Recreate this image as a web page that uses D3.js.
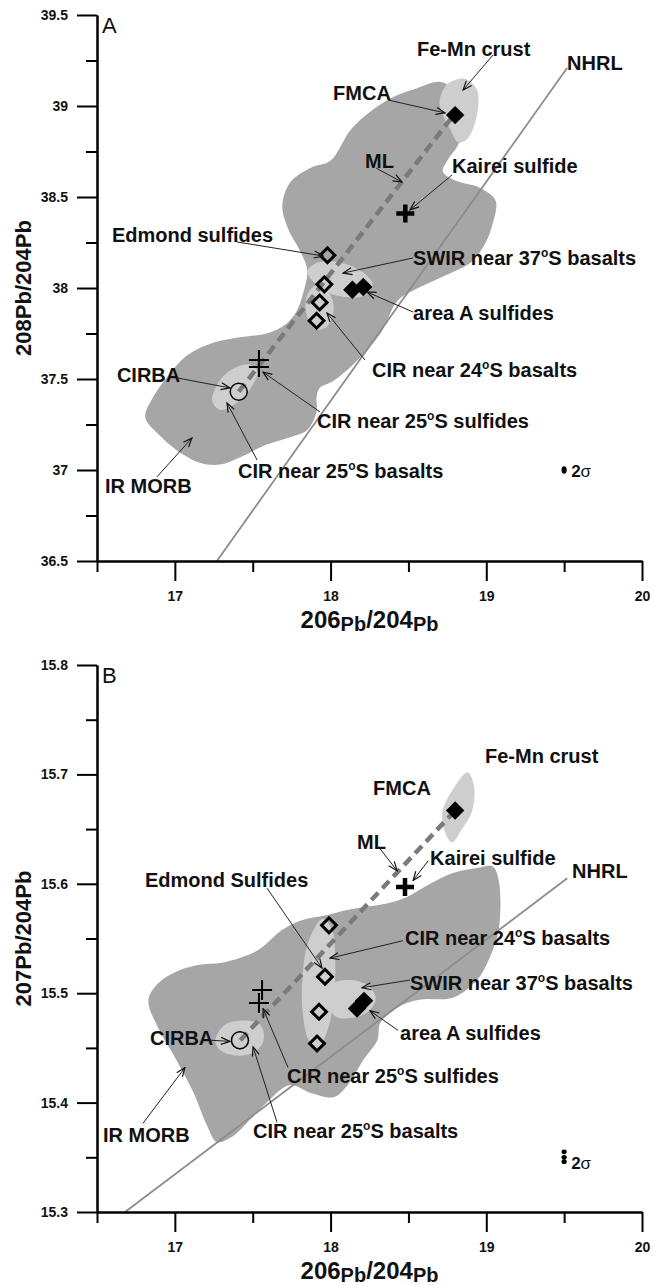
<!DOCTYPE html>
<html>
<head>
<meta charset="utf-8">
<script src="https://d3js.org/d3.v7.min.js"></script>
<style>
body { margin: 0; background: #fff; }
text { font-family: Arial, "Liberation Sans", sans-serif; }
</style>
</head>
<body>
<div id="chart"></div>
<script>

// ---- axis ticks ----
var xMajor = [17, 18, 19, 20], xMinor = [16.5, 17.5, 18.5, 19.5];
var yMajorA = [36.5, 37, 37.5, 38, 38.5, 39, 39.5], yMinorA = [36.75, 37.25, 37.75, 38.25, 38.75, 39.25];
var yMajorB = [15.3, 15.4, 15.5, 15.6, 15.7, 15.8], yMinorB = [15.35, 15.45, 15.55, 15.65, 15.75];

// ---- panel A: 208Pb/204Pb vs 206Pb/204Pb ----
var morbA = [[16.81,37.29],[16.86,37.40],[16.95,37.51],[17.08,37.63],[17.25,37.70],[17.42,37.73],[17.59,37.75],[17.71,37.80],[17.78,37.87],[17.82,37.96],[17.85,38.10],[17.80,38.21],[17.73,38.32],[17.69,38.45],[17.74,38.58],[17.87,38.66],[18.00,38.70],[18.14,38.88],[18.36,39.03],[18.53,39.09],[18.72,39.13],[18.82,39.03],[18.83,38.81],[18.75,38.70],[18.72,38.64],[18.80,38.59],[18.96,38.55],[19.06,38.48],[19.04,38.35],[18.99,38.24],[18.90,38.14],[18.74,38.07],[18.54,37.99],[18.43,37.93],[18.32,37.75],[18.17,37.60],[18.02,37.49],[17.93,37.45],[17.91,37.40],[17.91,37.32],[17.85,37.22],[17.74,37.18],[17.59,37.14],[17.42,37.07],[17.29,37.03],[17.16,37.04],[17.01,37.11],[16.89,37.20]];
var feMnA  = [[18.70,39.03],[18.75,39.12],[18.86,39.15],[18.94,39.09],[18.94,38.95],[18.88,38.82],[18.82,38.80],[18.77,38.87],[18.72,38.95]];
var swirA  = [[17.85,38.09],[17.92,38.14],[18.06,38.14],[18.20,38.09],[18.27,38.02],[18.22,37.96],[18.09,37.95],[17.95,37.99]];
var cir24A = [[17.93,38.02],[18.00,37.96],[18.02,37.88],[17.98,37.79],[17.91,37.77],[17.86,37.82],[17.84,37.93],[17.87,37.99]];
var cir25A = [[17.24,37.38],[17.28,37.48],[17.36,37.55],[17.48,37.58],[17.53,37.54],[17.48,37.44],[17.38,37.36],[17.29,37.33]];
var nhrlA = [[17.27,36.5],[19.52,39.21]];
var mlA = [[17.41,37.43],[18.80,38.96]];
var openDiaA = [[17.98,38.18],[17.96,38.02],[17.93,37.92],[17.91,37.82]];
var fillDiaA = [[18.80,38.95],[18.14,37.99],[18.21,38.005]];
var kaireiA = [[18.48,38.41]];
var crossA = [[17.54,37.604],[17.54,37.566]];
var circA = [[17.41,37.43]];
var sigA = [[19.5,37.0]];
var labelsA = [
  {t:"Fe-Mn crust", x:18.555, y:39.275},
  {t:"NHRL", x:19.519, y:39.198},
  {t:"FMCA", x:18.016, y:39.033},
  {t:"ML", x:18.221, y:38.659},
  {t:"Kairei sulfide", x:18.78, y:38.632},
  {t:"Edmond sulfides", x:16.596, y:38.253},
  {t:"SWIR near 37ºS basalts", x:18.53, y:38.126},
  {t:"area A sulfides", x:18.53, y:37.824},
  {t:"CIR near 24ºS basalts", x:18.266, y:37.511},
  {t:"CIR near 25ºS sulfides", x:17.913, y:37.231},
  {t:"CIR near 25ºS basalts", x:17.406, y:36.956},
  {t:"CIRBA", x:16.628, y:37.484},
  {t:"IR MORB", x:16.551, y:36.874}
];
var arrowsA = [
  [19.043,39.28,18.851,39.088],
  [18.369,39.033,18.735,38.962],
  [18.292,38.659,18.459,38.582],
  [18.78,38.621,18.51,38.429],
  [17.399,38.253,17.952,38.176],
  [18.53,38.165,18.08,38.082],
  [18.53,37.868,18.234,37.978],
  [18.221,37.604,17.977,37.863],
  [17.932,37.319,17.566,37.538],
  [17.528,37.055,17.335,37.368],
  [17.02,37.505,17.354,37.451],
  [16.885,36.962,17.11,37.176]
];

// ---- panel B: 207Pb/204Pb vs 206Pb/204Pb ----
var morbB = [[16.83,15.494],[16.90,15.510],[17.03,15.521],[17.16,15.526],[17.31,15.528],[17.53,15.539],[17.69,15.558],[17.82,15.567],[17.93,15.570],[18.14,15.577],[18.36,15.582],[18.49,15.588],[18.64,15.600],[18.79,15.610],[18.96,15.615],[19.04,15.616],[19.08,15.603],[19.08,15.558],[19.02,15.532],[18.94,15.512],[18.79,15.496],[18.57,15.494],[18.43,15.487],[18.32,15.473],[18.30,15.457],[18.21,15.439],[18.12,15.418],[18.02,15.405],[17.87,15.409],[17.74,15.416],[17.59,15.400],[17.48,15.384],[17.37,15.369],[17.27,15.364],[17.21,15.378],[17.12,15.409],[17.01,15.439],[16.89,15.469]];
var feMnB  = [[18.88,15.702],[18.92,15.690],[18.91,15.667],[18.84,15.649],[18.78,15.638],[18.73,15.649],[18.72,15.667],[18.78,15.685]];
var cir24B = [[17.95,15.568],[18.01,15.558],[18.03,15.530],[18.02,15.494],[17.98,15.466],[17.92,15.450],[17.86,15.457],[17.82,15.484],[17.82,15.516],[17.86,15.548]];
var swirB  = [[18.00,15.507],[18.12,15.512],[18.24,15.507],[18.29,15.495],[18.24,15.483],[18.12,15.477],[18.02,15.480]];
var cir25B = [[17.26,15.457],[17.32,15.471],[17.45,15.475],[17.55,15.471],[17.57,15.457],[17.51,15.446],[17.39,15.443],[17.29,15.448]];
var nhrlB = [[16.68,15.30],[19.52,15.605]];
var mlB = [[17.42,15.457],[18.80,15.667]];
var openDiaB = [[17.99,15.562],[17.964,15.515],[17.926,15.483],[17.913,15.454]];
var fillDiaB = [[18.80,15.667],[18.17,15.486],[18.215,15.493]];
var kaireiB = [[18.478,15.597]];
var crossB = [[17.56,15.503],[17.54,15.491]];
var circB = [[17.418,15.457]];
var sigB = [[19.5,15.355],[19.5,15.350],[19.5,15.346]];
var labelsB = [
  {t:"Fe-Mn crust", x:18.992, y:15.710},
  {t:"FMCA", x:18.273, y:15.681},
  {t:"ML", x:18.17, y:15.632},
  {t:"Kairei sulfide", x:18.639, y:15.617},
  {t:"NHRL", x:19.551, y:15.605},
  {t:"Edmond Sulfides", x:16.808, y:15.597},
  {t:"CIR near 24ºS basalts", x:18.478, y:15.544},
  {t:"SWIR near 37ºS basalts", x:18.51, y:15.503},
  {t:"area A sulfides", x:18.446, y:15.457},
  {t:"CIR near 25ºS sulfides", x:17.72, y:15.418},
  {t:"CIR near 25ºS basalts", x:17.502, y:15.368},
  {t:"CIRBA", x:16.84, y:15.453},
  {t:"IR MORB", x:16.539, y:15.364}
];
var arrowsB = [
  [18.318,15.632,18.427,15.612],
  [18.626,15.621,18.53,15.603],
  [17.592,15.596,17.945,15.523],
  [18.465,15.548,17.996,15.532],
  [18.51,15.512,18.202,15.505],
  [18.433,15.466,18.253,15.484],
  [17.727,15.432,17.566,15.486],
  [17.656,15.382,17.502,15.451],
  [17.226,15.457,17.354,15.456],
  [16.795,15.381,17.065,15.432]
];

var DARK = "#a6a6a6", LIGHT = "#cecece";

var svg = d3.select("#chart").append("svg")
    .attr("width", 653)
    .attr("height", 1285);

svg.append("defs").append("marker")
    .attr("id", "arr")
    .attr("viewBox", "-1 -5 11 10")
    .attr("refX", 9).attr("refY", 0)
    .attr("markerWidth", 11).attr("markerHeight", 10)
    .attr("markerUnits", "userSpaceOnUse")
    .attr("orient", "auto")
  .append("path")
    .attr("d", "M0,-3.5L9,0L0,3.5")
    .attr("fill", "none")
    .attr("stroke", "#111")
    .attr("stroke-width", 1.2);

var x = d3.scaleLinear().domain([16.5, 20]).range([97, 642]);

function addLabel(g, t, px, py) {
  var txt = g.append("text").attr("x", px).attr("y", py)
    .attr("font-size", 20).attr("font-weight", "bold").attr("fill", "#111");
  var parts = t.split("º");
  txt.append("tspan").text(parts[0]);
  if (parts.length > 1) {
    txt.append("tspan").text("o").attr("font-size", 12).attr("dy", -8);
    txt.append("tspan").text(parts[1]).attr("font-size", 20).attr("dy", 8);
  }
}

function drawPanel(p) {
  var y = d3.scaleLinear().domain(p.yDomain).range([p.bottom, p.top]);
  var g = svg.append("g");

  var blob = d3.line()
    .x(function(d) { return x(d[0]); })
    .y(function(d) { return y(d[1]); })
    .curve(d3.curveCatmullRomClosed.alpha(0.5));
  var seg = d3.line()
    .x(function(d) { return x(d[0]); })
    .y(function(d) { return y(d[1]); });

  g.append("path").attr("d", blob(p.morb)).attr("fill", DARK);
  p.light.forEach(function(r) {
    g.append("path").attr("d", blob(r)).attr("fill", LIGHT);
  });

  // NHRL
  g.append("path").attr("d", seg(p.nhrl))
    .attr("stroke", "#8c8c8c").attr("stroke-width", 1.8).attr("fill", "none");
  // mixing line
  g.append("path").attr("d", seg(p.ml))
    .attr("stroke", "#7a7a7a").attr("stroke-width", 4.5)
    .attr("stroke-dasharray", "10,6").attr("fill", "none");

  // markers
  var dia = d3.symbol().type(d3.symbolSquare);
  g.selectAll(".od").data(p.openDia).enter().append("path")
    .attr("d", dia.size(110)())
    .attr("transform", function(d) { return "translate(" + x(d[0]) + "," + y(d[1]) + ") rotate(45)"; })
    .attr("fill", "none").attr("stroke", "#000").attr("stroke-width", 3);
  g.selectAll(".fd").data(p.fillDia).enter().append("path")
    .attr("d", dia.size(170)())
    .attr("transform", function(d) { return "translate(" + x(d[0]) + "," + y(d[1]) + ") rotate(45)"; })
    .attr("fill", "#000");
  g.selectAll(".kp").data(p.kairei).enter().append("path")
    .attr("d", "M-9,0H9M0,-9V9")
    .attr("transform", function(d) { return "translate(" + x(d[0]) + "," + y(d[1]) + ")"; })
    .attr("stroke", "#000").attr("stroke-width", 4.5);
  g.selectAll(".cr").data(p.cross).enter().append("path")
    .attr("d", "M-10,0H10M0,-10V10")
    .attr("transform", function(d) { return "translate(" + x(d[0]) + "," + y(d[1]) + ")"; })
    .attr("stroke", "#000").attr("stroke-width", 2);
  g.selectAll(".ci").data(p.circ).enter().append("circle")
    .attr("cx", function(d) { return x(d[0]); })
    .attr("cy", function(d) { return y(d[1]); })
    .attr("r", 8.5)
    .attr("fill", "none").attr("stroke", "#000").attr("stroke-width", 1.5);

  // 2 sigma
  g.selectAll(".sg").data(p.sig).enter().append("ellipse")
    .attr("cx", function(d) { return x(d[0]); })
    .attr("cy", function(d) { return y(d[1]); })
    .attr("rx", 2.6).attr("ry", p.sig.length > 1 ? 2.4 : 3.8)
    .attr("fill", "#000");
  var s = p.sig[p.sig.length - 1];
  var st = g.append("text").attr("x", x(s[0]) + 7).attr("y", y(s[1]) + 7)
    .attr("font-size", 17).attr("fill", "#111");
  st.append("tspan").attr("font-weight", "bold").text("2");
  st.append("tspan").text("σ");

  // arrows
  g.selectAll(".ar").data(p.arrows).enter().append("line")
    .attr("x1", function(d) { return x(d[0]); })
    .attr("y1", function(d) { return y(d[1]); })
    .attr("x2", function(d) { return x(d[2]); })
    .attr("y2", function(d) { return y(d[3]); })
    .attr("stroke", "#222").attr("stroke-width", 1)
    .attr("marker-end", "url(#arr)");

  p.labels.forEach(function(l) { addLabel(g, l.t, x(l.x), y(l.y)); });

  // axes
  function styleAxis(a) {
    a.select(".domain").attr("stroke", "#000").attr("stroke-width", 2);
    a.selectAll(".tick line").attr("stroke", "#000").attr("stroke-width", 2);
    a.selectAll(".tick text").attr("font-size", 14).attr("font-weight", "bold")
      .attr("fill", "#111").style("font-family", "Arial, 'Liberation Sans', sans-serif");
  }
  g.append("g").attr("transform", "translate(0," + p.bottom + ")")
    .call(d3.axisBottom(x).tickValues(xMinor).tickSize(11).tickSizeOuter(0).tickFormat(""))
    .call(styleAxis);
  g.append("g").attr("transform", "translate(0," + p.bottom + ")")
    .call(d3.axisBottom(x).tickValues(xMajor).tickSize(20).tickSizeOuter(0).tickPadding(10)
      .tickFormat(function(d) { return String(d); }))
    .call(styleAxis);
  g.append("g").attr("transform", "translate(97,0)")
    .call(d3.axisLeft(y).tickValues(p.yMinor).tickSize(11).tickSizeOuter(0).tickFormat(""))
    .call(styleAxis);
  g.append("g").attr("transform", "translate(97,0)")
    .call(d3.axisLeft(y).tickValues(p.yMajor).tickSize(20).tickSizeOuter(0).tickPadding(9)
      .tickFormat(function(d) { return String(d); }))
    .call(styleAxis);

  // panel letter
  g.append("text").attr("x", 102).attr("y", p.top + 18)
    .attr("font-size", 22).attr("fill", "#111").text(p.letter);

  // y title
  g.append("text")
    .attr("transform", "translate(31," + ((p.top + p.bottom) / 2) + ") rotate(-90)")
    .attr("text-anchor", "middle")
    .attr("font-size", 22).attr("font-weight", "bold").attr("fill", "#111")
    .text(p.yTitle);

  // x title
  var xt = g.append("text")
    .attr("x", (97 + 642) / 2).attr("y", p.bottom + 67)
    .attr("text-anchor", "middle")
    .attr("font-weight", "bold").attr("fill", "#111");
  xt.append("tspan").attr("font-size", 24).text("206");
  xt.append("tspan").attr("font-size", 20).attr("dy", 3).text("Pb");
  xt.append("tspan").attr("font-size", 24).attr("dy", -3).text("/204");
  xt.append("tspan").attr("font-size", 20).attr("dy", 3).text("Pb");
}

drawPanel({
  letter: "A", yDomain: [36.5, 39.5], top: 15, bottom: 561,
  yMajor: yMajorA, yMinor: yMinorA, yTitle: "208Pb/204Pb",
  morb: morbA, light: [feMnA, swirA, cir24A, cir25A],
  nhrl: nhrlA, ml: mlA, openDia: openDiaA, fillDia: fillDiaA,
  kairei: kaireiA, cross: crossA, circ: circA, sig: sigA,
  labels: labelsA, arrows: arrowsA
});

drawPanel({
  letter: "B", yDomain: [15.3, 15.8], top: 665, bottom: 1212,
  yMajor: yMajorB, yMinor: yMinorB, yTitle: "207Pb/204Pb",
  morb: morbB, light: [feMnB, cir24B, swirB, cir25B],
  nhrl: nhrlB, ml: mlB, openDia: openDiaB, fillDia: fillDiaB,
  kairei: kaireiB, cross: crossB, circ: circB, sig: sigB,
  labels: labelsB, arrows: arrowsB
});

</script>
</body>
</html>
